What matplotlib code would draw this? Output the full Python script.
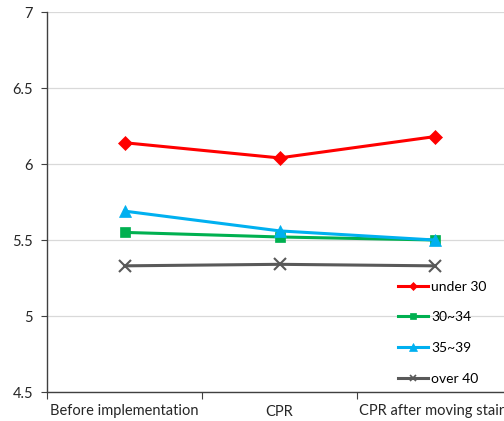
import matplotlib
matplotlib.use("Agg")
import matplotlib.pyplot as plt
from matplotlib.lines import Line2D

categories = ["Before implementation", "CPR", "CPR after moving stairs"]
series_names = ["under 30", "30~34", "35~39", "over 40"]
under30 = [6.14, 6.04, 6.18]
s30_34 = [5.55, 5.52, 5.50]
s35_39 = [5.69, 5.56, 5.50]
over40 = [5.33, 5.34, 5.33]
yticks = [4.5, 5, 5.5, 6, 6.5, 7]
ytick_labels = ["4.5", "5", "5.5", "6", "6.5", "7"]

colors = ["#ff0000", "#00b050", "#00b0f0", "#595959"]
markers = ["D", "s", "^", "x"]
msizes = [7, 7, 9, 8]
values = [under30, s30_34, s35_39, over40]

plt.rcParams['font.family'] = ['Lato', 'DejaVu Sans']

W, H = 504, 421
fig = plt.figure(figsize=(W / 100, H / 100), dpi=100)
left, right, top, bottom = 47, 512, 12, 392
ax = fig.add_axes([left / W, 1 - bottom / H, (right - left) / W, (bottom - top) / H])

x = [i + 0.5 for i in range(len(categories))]
for vals, c, m, ms in zip(values, colors, markers, msizes):
    ax.plot(x, vals, color=c, lw=2.2, marker=m, ms=ms, mew=1.5 if m == "x" else 0.5,
            mec=c, mfc=c, zorder=3)

ax.set_xlim(0, 3)
ax.set_ylim(4.5, 7)
ax.set_yticks(yticks)
ax.set_yticklabels(ytick_labels, fontsize=10.5, color="#262626")
ax.yaxis.grid(True, color="#d9d9d9", lw=0.9)
ax.set_axisbelow(True)
ax.set_xticks([0, 1, 2, 3])
ax.set_xticklabels([])
ax.set_xticks(x, minor=True)
ax.set_xticklabels(categories, minor=True, fontsize=10.5, color="#262626")
ax.tick_params(axis="x", which="minor", length=0, pad=9)
ax.tick_params(axis="x", which="major", length=5, direction="out", color="#404040")
ax.tick_params(axis="y", length=4, direction="out", color="#404040", pad=6)
for s in ["top", "right"]:
    ax.spines[s].set_visible(False)
for s in ["left", "bottom"]:
    ax.spines[s].set_color("#404040")
    ax.spines[s].set_linewidth(1.0)

handles = [Line2D([], [], color=c, lw=2.2, marker=m, ms=ms * 0.6, mec=c, mfc=c,
                  mew=1.2 if m == "x" else 0.5)
           for c, m, ms in zip(colors, markers, msizes)]
leg = fig.legend(handles, series_names, loc="upper left",
                 bbox_to_anchor=(392 / W, 1 - 275 / H), frameon=False,
                 fontsize=10, handlelength=2.2, handletextpad=0.2,
                 labelspacing=1.35, borderaxespad=0)
fig.savefig("out.png", dpi=100)
